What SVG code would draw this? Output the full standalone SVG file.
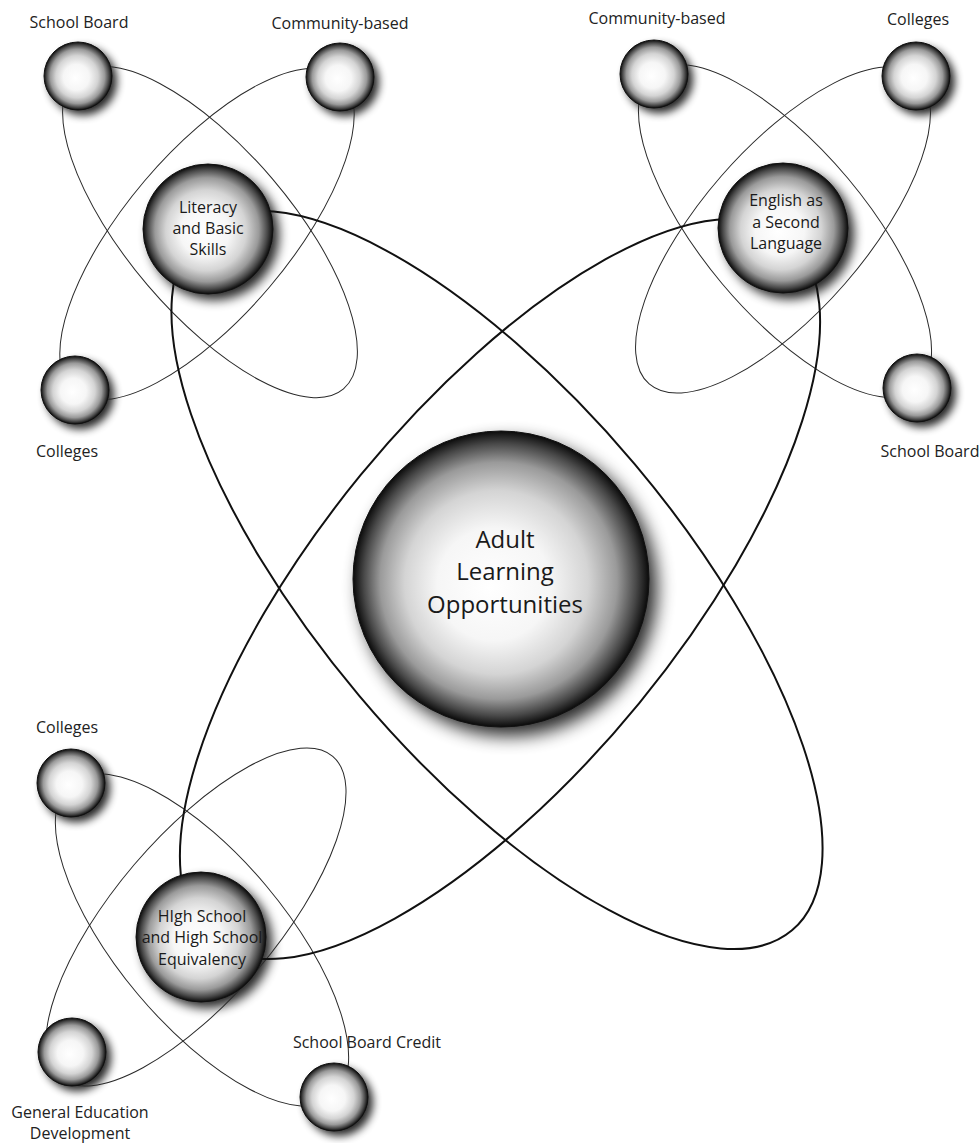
<svg xmlns="http://www.w3.org/2000/svg" width="980" height="1143" viewBox="0 0 980 1143">
<style>
.bg{fill:#ffffff}
.thin{fill:none;stroke:#2a2a2a;stroke-width:1}
.thick{fill:none;stroke:#111111;stroke-width:2}
.body{fill:url(#sph);stroke:#111111;stroke-width:1}
.shadow{fill:#000000;opacity:0.85}
.lbl{font-family:"Open Sans","Noto Sans","DejaVu Sans",sans-serif;font-size:16px;fill:#222222;text-anchor:middle}
.mid{font-family:"Open Sans","Noto Sans","DejaVu Sans",sans-serif;font-size:16px;fill:#1a1a1a;text-anchor:middle}
.big{font-family:"Open Sans","Noto Sans","DejaVu Sans",sans-serif;font-size:24px;fill:#1a1a1a;text-anchor:middle}
</style>
<defs>
<radialGradient id="sph" cx="0.5" cy="0.5" r="0.5" fx="0.46" fy="0.53">
<stop offset="0" stop-color="#ffffff"/>
<stop offset="0.38" stop-color="#f6f6f6"/>
<stop offset="0.62" stop-color="#d4d4d4"/>
<stop offset="0.8" stop-color="#9a9a9a"/>
<stop offset="0.92" stop-color="#484848"/>
<stop offset="1" stop-color="#0a0a0a"/>
</radialGradient>
<filter id="blurS" x="-50%" y="-50%" width="200%" height="200%"><feGaussianBlur stdDeviation="4"/></filter>
<filter id="blurM" x="-50%" y="-50%" width="200%" height="200%"><feGaussianBlur stdDeviation="5.5"/></filter>
<filter id="blurL" x="-50%" y="-50%" width="200%" height="200%"><feGaussianBlur stdDeviation="9"/></filter>
</defs>
<rect class="bg" x="0" y="0" width="980" height="1143"/>

<g id="shadows">
<circle class="shadow" cx="509" cy="588" r="148" filter="url(#blurL)"/>
<circle class="shadow" cx="214" cy="235" r="65" filter="url(#blurM)"/>
<circle class="shadow" cx="789" cy="234" r="65" filter="url(#blurM)"/>
<circle class="shadow" cx="207" cy="943" r="65" filter="url(#blurM)"/>
<circle class="shadow" cx="83" cy="81" r="34" filter="url(#blurS)"/>
<circle class="shadow" cx="345" cy="82" r="34" filter="url(#blurS)"/>
<circle class="shadow" cx="80" cy="395" r="34" filter="url(#blurS)"/>
<circle class="shadow" cx="659" cy="79" r="34" filter="url(#blurS)"/>
<circle class="shadow" cx="921" cy="81" r="34" filter="url(#blurS)"/>
<circle class="shadow" cx="922" cy="393" r="34" filter="url(#blurS)"/>
<circle class="shadow" cx="76" cy="788" r="34" filter="url(#blurS)"/>
<circle class="shadow" cx="77" cy="1057" r="34" filter="url(#blurS)"/>
<circle class="shadow" cx="339" cy="1102" r="34" filter="url(#blurS)"/>
</g>

<g id="connectors">
<ellipse class="thin" cx="210" cy="232" rx="206" ry="82" transform="rotate(49.6 210 232)"/>
<ellipse class="thin" cx="207" cy="234" rx="206" ry="82" transform="rotate(-49.7 207 234)"/>
<ellipse class="thin" cx="785" cy="231" rx="206" ry="82" transform="rotate(50 785 231)"/>
<ellipse class="thin" cx="783" cy="230" rx="204" ry="82" transform="rotate(-49 783 230)"/>
<ellipse class="thin" cx="202" cy="940" rx="205" ry="84" transform="rotate(50 202 940)"/>
<ellipse class="thin" cx="196" cy="917" rx="211" ry="81" transform="rotate(-49.6 196 917)"/>
<ellipse class="thick" cx="497" cy="580" rx="458" ry="180" transform="rotate(49.9 497 580)"/>
<ellipse class="thick" cx="500" cy="589" rx="455" ry="180" transform="rotate(-50.7 500 589)"/>
</g>

<g id="node-adult">
<circle class="body" cx="501" cy="579" r="148"/>
<text class="big" x="505" y="548">Adult</text>
<text class="big" x="505" y="580">Learning</text>
<text class="big" x="505" y="613">Opportunities</text>
</g>

<g id="node-literacy">
<circle class="body" cx="208" cy="229" r="65"/>
<text class="mid" x="208" y="213">Literacy</text>
<text class="mid" x="208" y="234">and Basic</text>
<text class="mid" x="208" y="255">Skills</text>
</g>

<g id="node-esl">
<circle class="body" cx="783" cy="228" r="65"/>
<text class="mid" x="786" y="206">English as</text>
<text class="mid" x="786" y="228">a Second</text>
<text class="mid" x="786" y="249">Language</text>
</g>

<g id="node-highschool">
<circle class="body" cx="201" cy="937" r="65"/>
<text class="mid" x="202" y="922">HIgh School</text>
<text class="mid" x="202" y="943">and High School</text>
<text class="mid" x="202" y="965">Equivalency</text>
</g>

<g id="node-lit-schoolboard">
<circle class="body" cx="78" cy="76" r="34"/>
<text class="lbl" x="79" y="28">School Board</text>
</g>
<g id="node-lit-community">
<circle class="body" cx="340" cy="77" r="34"/>
<text class="lbl" x="340" y="29">Community-based</text>
</g>
<g id="node-lit-colleges">
<circle class="body" cx="75" cy="390" r="34"/>
<text class="lbl" x="67" y="457">Colleges</text>
</g>

<g id="node-esl-community">
<circle class="body" cx="654" cy="74" r="34"/>
<text class="lbl" x="657" y="24">Community-based</text>
</g>
<g id="node-esl-colleges">
<circle class="body" cx="916" cy="76" r="34"/>
<text class="lbl" x="918" y="25">Colleges</text>
</g>
<g id="node-esl-schoolboard">
<circle class="body" cx="917" cy="388" r="34"/>
<text class="lbl" x="930" y="457">School Board</text>
</g>

<g id="node-hs-colleges">
<circle class="body" cx="71" cy="783" r="34"/>
<text class="lbl" x="67" y="733">Colleges</text>
</g>
<g id="node-hs-ged">
<circle class="body" cx="72" cy="1052" r="34"/>
<text class="lbl" x="80" y="1118">General Education</text>
<text class="lbl" x="80" y="1139">Development</text>
</g>
<g id="node-hs-credit">
<circle class="body" cx="334" cy="1097" r="34"/>
<text class="lbl" x="367" y="1048">School Board Credit</text>
</g>
</svg>
